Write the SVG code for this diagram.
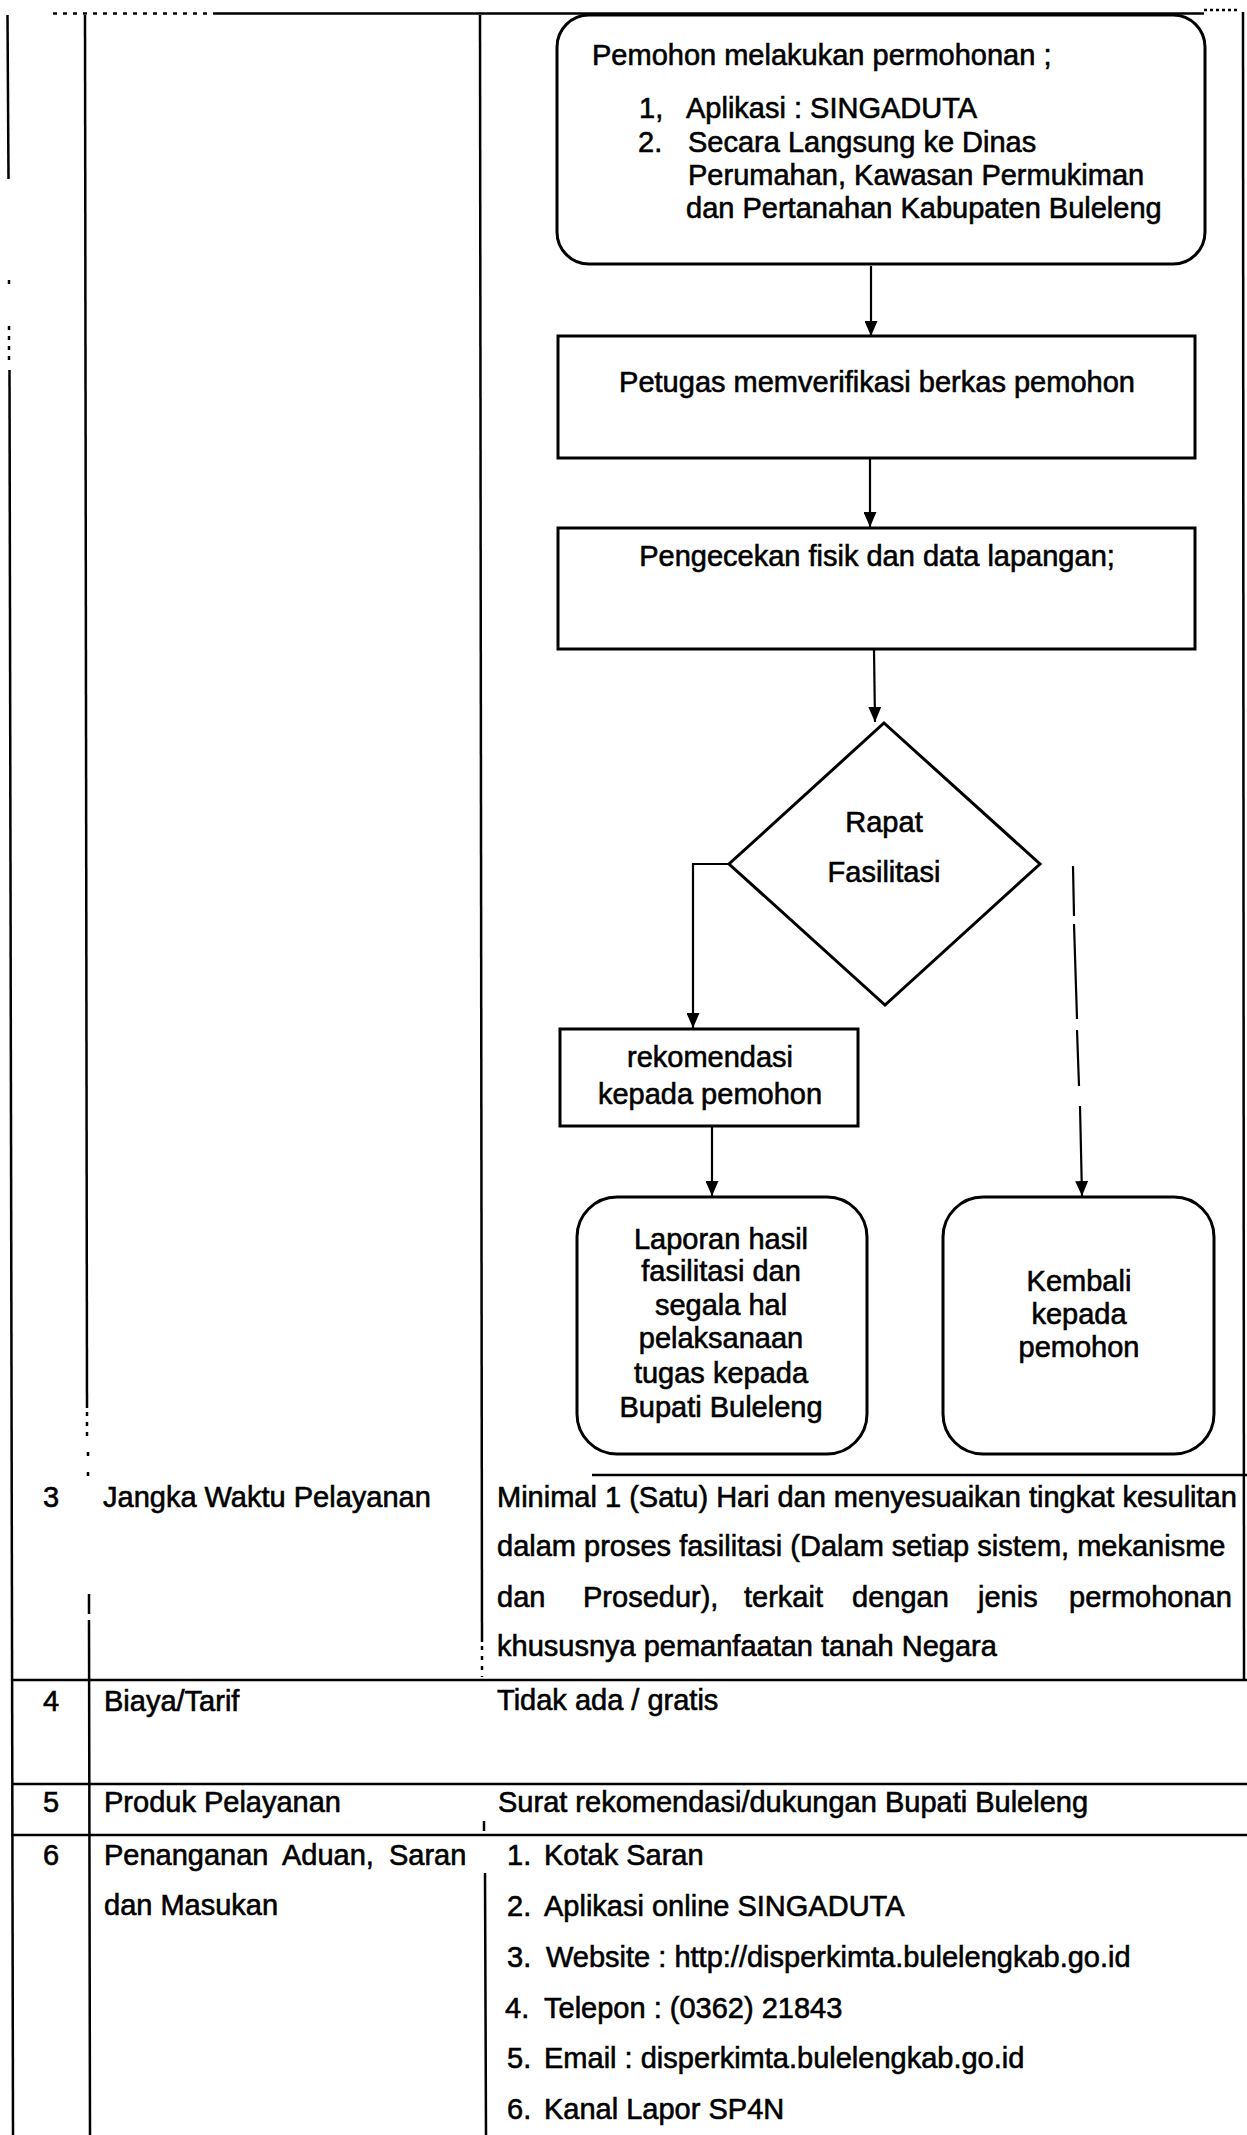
<svg xmlns="http://www.w3.org/2000/svg" width="1247" height="2135" viewBox="0 0 1247 2135">
<style>
  .t{font-family:"Liberation Sans",Arial,sans-serif;font-size:29px;fill:#000;stroke:#000;stroke-width:0.6}
  .m{text-anchor:middle}
  .ln{stroke:#000;stroke-width:2.5;fill:none}
  .dot{stroke:#000;stroke-width:2.5;fill:none;stroke-dasharray:4 6}
  .shape{stroke:#000;stroke-width:3;fill:#fff}
  .con{stroke:#000;stroke-width:2.2;fill:none;marker-end:url(#ah)}
</style>
<defs>
  <marker id="ah" markerWidth="15" markerHeight="13" refX="15" refY="6.5" orient="auto" markerUnits="userSpaceOnUse">
    <path d="M0,0 L15,6.5 L0,13 z" fill="#000"/>
  </marker>
</defs>
<rect width="1247" height="2135" fill="#fff"/>

<g id="table">
  <path class="dot" d="M53,13.5 L217,13.5"/>
  <path class="ln" d="M217,13.5 L1204,13.5"/>
  <path class="dot" d="M1204,10 L1238,10" style="stroke-dasharray:3 3"/>
  <path class="ln" d="M1243,12 L1244,1680"/>
  <path class="ln" d="M7.5,15 L8.5,179"/>
  <path class="dot" d="M9,280 L9,286 M9,326 L9,366"/>
  <path class="ln" d="M9.5,370 L13,2135"/>
  <path class="ln" d="M85,15 L87,1408"/>
  <path class="dot" d="M87,1412 L87,1442 M88,1452 L88,1456 M88,1472 L88,1476"/>
  <path class="ln" d="M89,1594 L89,1614 M89,1620 L90,2135"/>
  <path class="ln" d="M480,15 L482,1642"/>
  <path class="dot" d="M482,1646 L482,1677"/>
  <path class="ln" d="M484,1821 L484,1831 M485,1873 L486,2135"/>
  <path class="ln" d="M592,1475 L1247,1475"/>
  <path class="ln" d="M12,1680 L1247,1680"/>
  <path class="ln" d="M12,1784 L1247,1784"/>
  <path class="ln" d="M12,1835 L1247,1835"/>
</g>

<g id="node-pemohon">
  <rect class="shape" x="557" y="15" width="648" height="249" rx="32"/>
  <text class="t" x="592" y="65">Pemohon melakukan permohonan ;</text>
  <text class="t" x="639" y="118">1,</text>
  <text class="t" x="686" y="118">Aplikasi : SINGADUTA</text>
  <text class="t" x="638" y="152">2.</text>
  <text class="t" x="688" y="152">Secara Langsung ke Dinas</text>
  <text class="t" x="688" y="185">Perumahan, Kawasan Permukiman</text>
  <text class="t" x="686" y="218">dan Pertanahan Kabupaten Buleleng</text>
</g>

<g id="node-verifikasi">
  <rect class="shape" x="558" y="336" width="637" height="122"/>
  <text class="t m" x="877" y="392">Petugas memverifikasi berkas pemohon</text>
</g>

<g id="node-pengecekan">
  <rect class="shape" x="558" y="528" width="637" height="121"/>
  <text class="t m" x="877" y="566">Pengecekan fisik dan data lapangan;</text>
</g>

<g id="node-rapat">
  <polygon class="shape" points="884,723 1040,864 885,1005 729,864"/>
  <text class="t m" x="884" y="832">Rapat</text>
  <text class="t m" x="884" y="882">Fasilitasi</text>
</g>

<g id="node-rekomendasi">
  <rect class="shape" x="560" y="1029" width="298" height="97"/>
  <text class="t m" x="710" y="1067">rekomendasi</text>
  <text class="t m" x="710" y="1104">kepada pemohon</text>
</g>

<g id="node-laporan">
  <rect class="shape" x="577" y="1197" width="290" height="257" rx="40"/>
  <text class="t m" x="721" y="1249">Laporan hasil</text>
  <text class="t m" x="721" y="1281">fasilitasi dan</text>
  <text class="t m" x="721" y="1315">segala hal</text>
  <text class="t m" x="721" y="1348">pelaksanaan</text>
  <text class="t m" x="721" y="1383">tugas kepada</text>
  <text class="t m" x="721" y="1417">Bupati Buleleng</text>
</g>

<g id="node-kembali">
  <rect class="shape" x="943" y="1197" width="271" height="257" rx="40"/>
  <text class="t m" x="1079" y="1291">Kembali</text>
  <text class="t m" x="1079" y="1324">kepada</text>
  <text class="t m" x="1079" y="1357">pemohon</text>
</g>

<g id="connectors">
  <path class="con" d="M871,266 L871,336"/>
  <path class="con" d="M870,459 L870,527"/>
  <path class="con" d="M874,650 L875,722"/>
  <path class="con" d="M729,864 L693,864 L693,1028"/>
  <path class="con" d="M1073,866 L1074,916 M1074,924 L1077,1019 M1077,1030 L1079,1086 M1080,1106 L1082,1196"/>
  <path class="con" d="M712,1127 L712,1196"/>
</g>

<g id="row-3">
  <text class="t" x="43" y="1507">3</text>
  <text class="t" x="103" y="1507">Jangka Waktu Pelayanan</text>
  <text class="t" x="497" y="1507">Minimal 1 (Satu) Hari dan menyesuaikan tingkat kesulitan</text>
  <text class="t" x="497" y="1556">dalam proses fasilitasi  (Dalam setiap sistem, mekanisme</text>
  <text class="t" y="1607"><tspan x="497">dan</tspan><tspan x="583">Prosedur),</tspan><tspan x="744">terkait</tspan><tspan x="852">dengan</tspan><tspan x="978">jenis</tspan><tspan x="1069">permohonan</tspan></text>
  <text class="t" x="497" y="1656">khususnya pemanfaatan tanah Negara</text>
</g>

<g id="row-4">
  <text class="t" x="43" y="1711">4</text>
  <text class="t" x="104" y="1711">Biaya/Tarif</text>
  <text class="t" x="497" y="1710">Tidak ada / gratis</text>
</g>

<g id="row-5">
  <text class="t" x="43" y="1812">5</text>
  <text class="t" x="104" y="1812">Produk Pelayanan</text>
  <text class="t" x="498" y="1812">Surat rekomendasi/dukungan Bupati Buleleng</text>
</g>

<g id="row-6">
  <text class="t" x="43" y="1865">6</text>
  <text class="t" x="104" y="1865" word-spacing="7">Penanganan Aduan, Saran</text>
  <text class="t" x="104" y="1915">dan Masukan</text>
  <text class="t" x="507" y="1865">1.</text><text class="t" x="544" y="1865">Kotak Saran</text>
  <text class="t" x="507" y="1916">2.</text><text class="t" x="544" y="1916">Aplikasi online SINGADUTA</text>
  <text class="t" x="507" y="1967">3.</text><text class="t" x="546" y="1967">Website : http://disperkimta.bulelengkab.go.id</text>
  <text class="t" x="505" y="2018">4.</text><text class="t" x="544" y="2018">Telepon : (0362) 21843</text>
  <text class="t" x="507" y="2068">5.</text><text class="t" x="544" y="2068">Email : disperkimta.bulelengkab.go.id</text>
  <text class="t" x="507" y="2119">6.</text><text class="t" x="544" y="2119">Kanal Lapor SP4N</text>
</g>
</svg>
